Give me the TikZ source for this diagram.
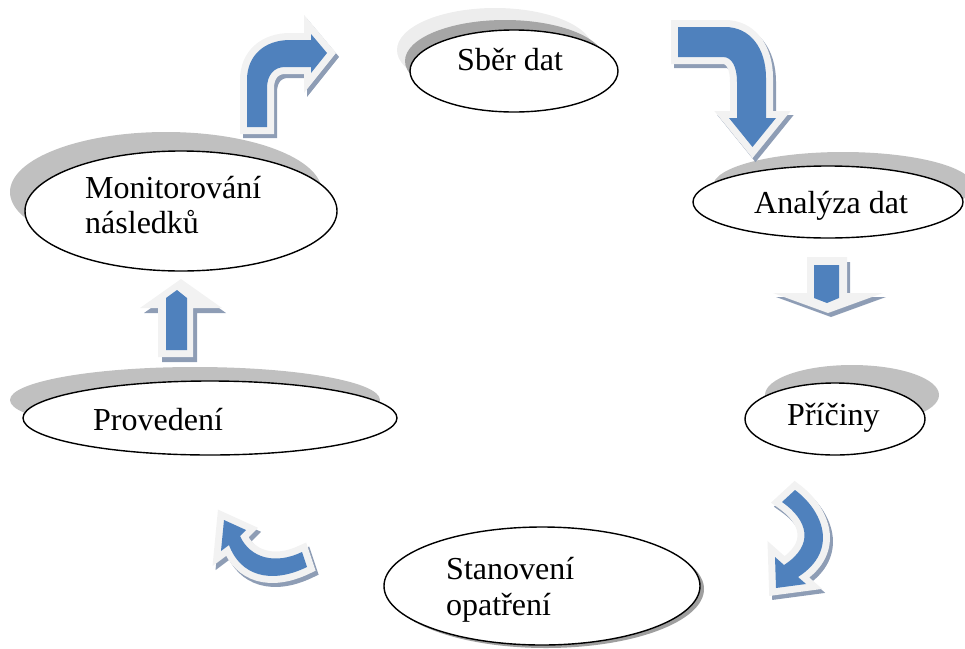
\documentclass[tikz,border=0pt]{standalone}
\usepackage{fontspec}
\setmainfont{Liberation Serif}
\usetikzlibrary{shapes.geometric}
\definecolor{arrblue}{HTML}{4F81BD}
\definecolor{arrlight}{HTML}{F2F2F2}
\definecolor{arrshadow}{HTML}{8E9DB5}
\definecolor{ellshadow}{HTML}{C0C0C0}
\definecolor{ellshadowdark}{HTML}{A6A6A6}
\definecolor{ellshadowlight}{HTML}{EDEDED}
\newcommand{\myblockarrow}[1]{%
  \fill[arrshadow, shift={(3,4)}] #1;
  \draw[arrshadow, line width=14pt, line join=miter, shift={(3,4)}] #1;
  \draw[arrlight, line width=14pt, line join=miter] #1;
  \fill[arrblue] #1;
}
\tikzset{
  stage/.style={ellipse, draw=black, line width=1.4pt, fill=white, inner sep=0pt},
  stagetext/.style={anchor=base west, inner sep=0pt, font=\fontsize{32}{36}\selectfont},
}
\begin{document}
\begin{tikzpicture}[x=1pt, y=-1pt]
\useasboundingbox (0,0) rectangle (965,648);

% ---- ellipse shadows ----
\fill[ellshadowlight] (495,50) ellipse [x radius=98pt, y radius=42pt];
\fill[ellshadowdark] (505,61) ellipse [x radius=100pt, y radius=41pt];
\fill[ellshadow] (166,192) ellipse [x radius=156pt, y radius=60pt];
\fill[ellshadow] (843,186) ellipse [x radius=130pt, y radius=34pt];
\fill[ellshadow] (852,395) ellipse [x radius=87pt, y radius=30pt];
\fill[gray!75] (546,589) ellipse [x radius=158pt, y radius=59pt];
\fill[ellshadow] (195,400) ellipse [x radius=185pt, y radius=33pt];

% ---- stages ----
\node[stage, minimum width=208pt, minimum height=82pt] (sber) at (514,71) {};
\node[stage, minimum width=270pt, minimum height=72pt] (analyza) at (828,202) {};
\node[stage, minimum width=180pt, minimum height=72pt] (priciny) at (835,419) {};
\node[stage, minimum width=316pt, minimum height=118pt] (stanoveni) at (542,586) {};
\node[stage, minimum width=374pt, minimum height=74pt] (provedeni) at (210,418) {};
\node[stage, minimum width=312pt, minimum height=120pt] (monitor) at (181,211) {};

% ---- texts ----
\node[stagetext] (tsber) at (457,70) {Sběr dat};
\node[stagetext] (tanalyza) at (754,213) {Analýza dat};
\node[stagetext] (tpriciny) at (787,425) {Příčiny};
\node[stagetext] (tstan1) at (446,579) {Stanovení};
\node[stagetext] (tstan2) at (446,615) {opatření};
\node[stagetext] (tprov) at (93,430) {Provedení};
\node[stagetext] (tmon1) at (85,198) {Monitorování};
\node[stagetext] (tmon2) at (85,233) {následků};

% ---- arrows ----
% top-left: up then right
\myblockarrow{(247,127) -- (247,80) .. controls (247,55) and (265,40) .. (290,40) -- (311,40) -- (311,34) -- (327,53) -- (311,73) -- (311,67) -- (285,67) .. controls (274,67) and (267,75) .. (267,88) -- (267,127) -- cycle}
% top-right: right then down
\myblockarrow{(678,27) -- (725,27) .. controls (750,27) and (766,48) .. (766,78) -- (766,118) -- (776,118) -- (752.5,147) -- (729,118) -- (737,118) -- (737,82) .. controls (737,67) and (732,57) .. (723,57) -- (678,57) -- cycle}
% right bottom curved arrow
\myblockarrow{(795,490) .. controls (822,510) and (840,550) .. (798,577) -- (806,584) -- (776,588) -- (775,557) -- (784,565) .. controls (815,545) and (808,520) .. (782,502) -- cycle}
% bottom-left curved arrow
\myblockarrow{(302,552) .. controls (275,565) and (250,558) .. (240,536) -- (246,530) -- (224,520) -- (221,551) -- (229,545) .. controls (240,575) and (270,585) .. (307,567) -- cycle}

% small down arrow
\fill[arrshadow] (810,262) -- (850,262) -- (850,297) -- (886,297) -- (831,317) -- (776,297) -- (810,297) -- cycle;
\fill[arrlight] (807,257) -- (847,257) -- (847,293) -- (883,293) -- (828,313) -- (773,293) -- (807,293) -- cycle;
\fill[arrblue] (814,265) -- (839,265) -- (839,298) -- (827,303) -- (814,298) -- cycle;

% small up arrow
\fill[arrshadow] (162,362) -- (197,362) -- (197,313) -- (226,313) -- (185,284) -- (144,313) -- (162,313) -- cycle;
\fill[arrlight] (158,357) -- (193,357) -- (193,308) -- (222,308) -- (181,279) -- (140,308) -- (158,308) -- cycle;
\fill[arrblue] (166,350) -- (187,350) -- (187,298) -- (177,290) -- (166,298) -- cycle;
\end{tikzpicture}
\end{document}
